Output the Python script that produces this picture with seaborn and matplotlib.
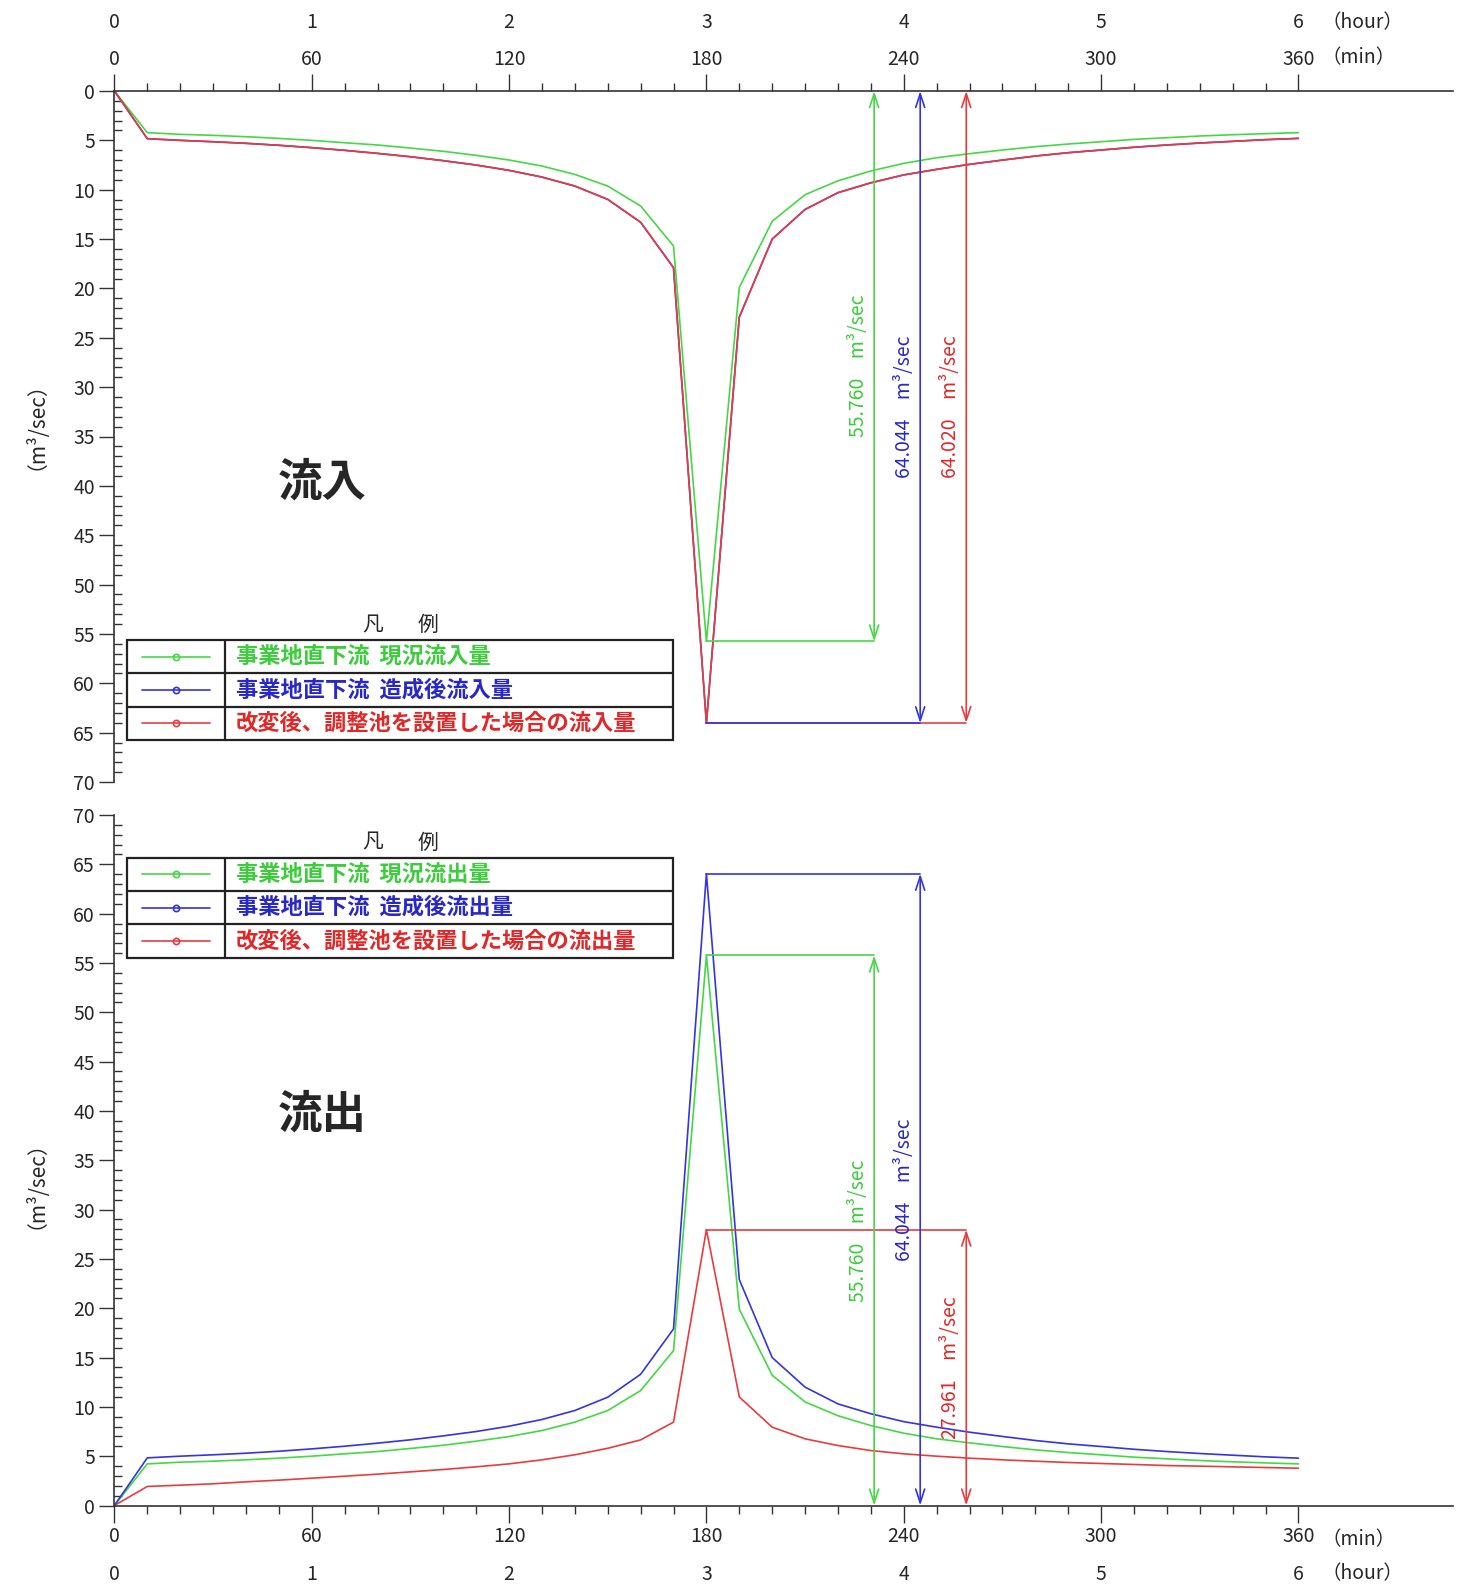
import matplotlib
matplotlib.use("Agg")
import matplotlib.pyplot as plt
import matplotlib.transforms as mtransforms
from matplotlib.patches import Rectangle
import seaborn as sns
import pandas as pd

sns.set_style("white")
plt.rcParams['font.family'] = ['Noto Sans CJK JP', 'DejaVu Sans']

# ---------------- data ----------------
minutes = list(range(0, 361, 10))

green_flow = [0, 4.22, 4.39, 4.49, 4.63, 4.80, 5.00, 5.24, 5.47, 5.78, 6.11, 6.52, 6.99,
              7.60, 8.45, 9.63, 11.65, 15.7, 55.760, 19.9, 13.2, 10.5, 9.1, 8.1, 7.33,
              6.76, 6.35, 5.98, 5.64, 5.37, 5.14, 4.90, 4.73, 4.56, 4.43, 4.32, 4.22]

blue_flow = [0, 4.83, 5.0, 5.14, 5.3, 5.5, 5.74, 6.01, 6.32, 6.66, 7.06, 7.5, 8.04,
             8.72, 9.63, 10.98, 13.3, 17.9, 64.044, 22.9, 15.0, 12.0, 10.3, 9.3, 8.5,
             7.94, 7.43, 7.0, 6.59, 6.25, 5.98, 5.7, 5.47, 5.27, 5.1, 4.93, 4.8]

red_inflow = [0, 4.83, 5.0, 5.14, 5.3, 5.5, 5.74, 6.01, 6.32, 6.66, 7.06, 7.5, 8.04,
              8.72, 9.63, 10.98, 13.3, 17.9, 64.020, 22.9, 15.0, 12.0, 10.3, 9.3, 8.5,
              7.94, 7.43, 7.0, 6.59, 6.25, 5.98, 5.7, 5.47, 5.27, 5.1, 4.93, 4.8]

red_outflow = [0, 1.93, 2.06, 2.2, 2.4, 2.57, 2.77, 2.97, 3.18, 3.41, 3.65, 3.92, 4.22,
               4.63, 5.14, 5.8, 6.65, 8.45, 27.961, 11.0, 7.94, 6.76, 6.08, 5.57, 5.24,
               5.0, 4.8, 4.63, 4.49, 4.36, 4.26, 4.16, 4.05, 3.99, 3.92, 3.85, 3.78]

peak_time = 180
dim_x = [231, 245, 259]           # green, blue, red dimension arrows (min)

min_ticks = [0, 60, 120, 180, 240, 300, 360]
min_labels = ['0', '60', '120', '180', '240', '300', '360']
hour_labels = ['0', '1', '2', '3', '4', '5', '6']
y_ticks = list(range(0, 71, 5))

in_labels = ['事業地直下流  現況流入量', '事業地直下流  造成後流入量', '改変後、調整池を設置した場合の流入量']
out_labels = ['事業地直下流  現況流出量', '事業地直下流  造成後流出量', '改変後、調整池を設置した場合の流出量']

GREEN, BLUE, RED = '#44d844', '#3434e0', '#e83c3c'
TGREEN, TBLUE, TRED = '#3ccc3c', '#2828c8', '#e02828'

W, H = 1465, 1587
fig = plt.figure(figsize=(W / 100, H / 100), dpi=100)

left = 114.4 / W
width = (1453 - 114.4) / W
ax_top = fig.add_axes([left, 1 - 782 / H, width, (782 - 91) / H])
ax_bot = fig.add_axes([left, 1 - 1505.5 / H, width, (1505.5 - 815) / H])

tick_font = 14
spine_col = '#333333'


def style_axes(ax, top):
    ax.set_xlim(0, 407)
    if top:
        ax.set_ylim(70, 0)
        ax.xaxis.tick_top()
        for s in ['right', 'bottom']:
            ax.spines[s].set_visible(False)
    else:
        ax.set_ylim(0, 70)
        for s in ['right', 'top']:
            ax.spines[s].set_visible(False)
    for s in ['left', 'top', 'bottom']:
        ax.spines[s].set_color(spine_col)
        ax.spines[s].set_linewidth(1.2)
    ax.set_xticks(min_ticks)
    ax.set_xticklabels(min_labels)
    ax.set_xticks(minutes, minor=True)
    ax.set_yticks(y_ticks)
    ax.set_yticks(list(range(0, 71)), minor=True)
    ax.tick_params(axis='x', which='both', top=top, bottom=not top,
                   labeltop=top, labelbottom=not top)
    ax.tick_params(axis='y', which='both', left=True, right=False, labelleft=True)
    ax.tick_params(axis='x', which='major', direction='out', length=12, width=1,
                   color=spine_col, labelsize=tick_font, pad=3)
    ax.tick_params(axis='x', which='minor', direction='out', length=6, width=1, color=spine_col)
    ax.tick_params(axis='y', which='major', direction='out', length=11, width=1,
                   color=spine_col, labelsize=tick_font, pad=3)
    ax.tick_params(axis='y', which='minor', direction='in', length=6, width=1, color=spine_col)
    ax.set_xlabel('')
    ax.set_ylabel('')
    ax.grid(False)


# ---------------- top panel (inflow) ----------------
sns.lineplot(x=minutes, y=green_flow, color=GREEN, lw=1.2, ax=ax_top, legend=False)
sns.lineplot(x=minutes, y=blue_flow, color=BLUE, lw=1.2, ax=ax_top, legend=False)
sns.lineplot(x=minutes, y=red_inflow, color=RED, lw=1.2, ax=ax_top, legend=False)
style_axes(ax_top, True)

# ---------------- bottom panel (outflow) ----------------
sns.lineplot(x=minutes, y=red_outflow, color=RED, lw=1.2, ax=ax_bot, legend=False)
sns.lineplot(x=minutes, y=green_flow, color=GREEN, lw=1.2, ax=ax_bot, legend=False)
sns.lineplot(x=minutes, y=blue_flow, color=BLUE, lw=1.2, ax=ax_bot, legend=False)
style_axes(ax_bot, False)


def dimension(ax, xv, pk, col, tcol):
    ax.plot([peak_time, xv], [pk, pk], color=col, lw=1.2)
    ax.annotate('', xy=(xv, 0), xytext=(xv, pk),
                arrowprops=dict(arrowstyle='<->,head_length=0.55,head_width=0.18',
                                color=col, lw=1.2, shrinkA=0, shrinkB=0, mutation_scale=18))
    ax.annotate(f'{pk:.3f}\u3000m³/sec', xy=(xv, pk / 2), xytext=(-11, 0),
                textcoords='offset points', rotation=90, ha='center', va='center',
                color=tcol, fontsize=14)


peaks_top = [max(green_flow), max(blue_flow), max(red_inflow)]
peaks_bot = [max(green_flow), max(blue_flow), max(red_outflow)]
cols = [GREEN, BLUE, RED]
tcols = [TGREEN, TBLUE, TRED]
for i in [2, 0, 1]:
    dimension(ax_top, dim_x[i], peaks_top[i], cols[i], tcols[i])
for i in [2, 0, 1]:
    dimension(ax_bot, dim_x[i], peaks_bot[i], cols[i], tcols[i])

# hour rows and unit labels
tr_top = mtransforms.offset_copy(ax_top.get_xaxis_transform(), fig, x=0, y=68, units='dots')
tr_top_min = mtransforms.offset_copy(ax_top.get_xaxis_transform(), fig, x=0, y=33, units='dots')
for m, h in zip(min_ticks, hour_labels):
    ax_top.text(m, 1, h, transform=tr_top, ha='center', va='center', fontsize=tick_font)
ax_top.text(367, 1, '（hour）', transform=tr_top, ha='left', va='center', fontsize=tick_font)
ax_top.text(367, 1, '（min）', transform=tr_top_min, ha='left', va='center', fontsize=tick_font)

tr_bot = mtransforms.offset_copy(ax_bot.get_xaxis_transform(), fig, x=0, y=-68.5, units='dots')
tr_bot_min = mtransforms.offset_copy(ax_bot.get_xaxis_transform(), fig, x=0, y=-34, units='dots')
for m, h in zip(min_ticks, hour_labels):
    ax_bot.text(m, 0, h, transform=tr_bot, ha='center', va='center', fontsize=tick_font)
ax_bot.text(367, 0, '（min）', transform=tr_bot_min, ha='left', va='center', fontsize=tick_font)
ax_bot.text(367, 0, '（hour）', transform=tr_bot, ha='left', va='center', fontsize=tick_font)

# ---------------- overlay for free texts & legend tables ----------------
ov = fig.add_axes([0, 0, 1, 1], zorder=10)
ov.set_xlim(0, W)
ov.set_ylim(H, 0)
ov.axis('off')
ov.patch.set_alpha(0)

ov.text(25, 415, '（m³/sec）', rotation=90, ha='center', va='center', fontsize=15)
ov.text(25, 1174, '（m³/sec）', rotation=90, ha='center', va='center', fontsize=15)
ov.text(322, 483, '流入', ha='center', va='center', fontsize=32, fontweight='bold')
ov.text(322, 1114, '流出', ha='center', va='center', fontsize=32, fontweight='bold')


def legend_table(top, labels):
    x0, x1, xd = 126.6, 673.3, 224.8
    rh = 33.3
    ov.add_patch(Rectangle((x0, top), x1 - x0, 3 * rh, fill=False, lw=1.6, ec='#222222'))
    ov.plot([xd, xd], [top, top + 3 * rh], color='#222222', lw=1.6)
    for i in (1, 2):
        ov.plot([x0, x1], [top + i * rh] * 2, color='#222222', lw=1.6)
    ov.text(372.6, top - 15, '凡', ha='center', va='center', fontsize=15)
    ov.text(428, top - 15, '例', ha='center', va='center', fontsize=15)
    for i, (lab, c, tc) in enumerate(zip(labels, cols, tcols)):
        yc = top + (i + 0.5) * rh
        ov.plot([142, 210], [yc, yc], color=c, lw=1.2)
        ov.plot([176], [yc], marker='o', ms=4.5, mfc='none', mec=c, mew=1.2)
        ov.text(236, yc, lab, ha='left', va='center', fontsize=16, color=tc, fontweight='bold')


legend_table(640, in_labels)
legend_table(857.6, out_labels)

fig.savefig('out.png', dpi=100)
